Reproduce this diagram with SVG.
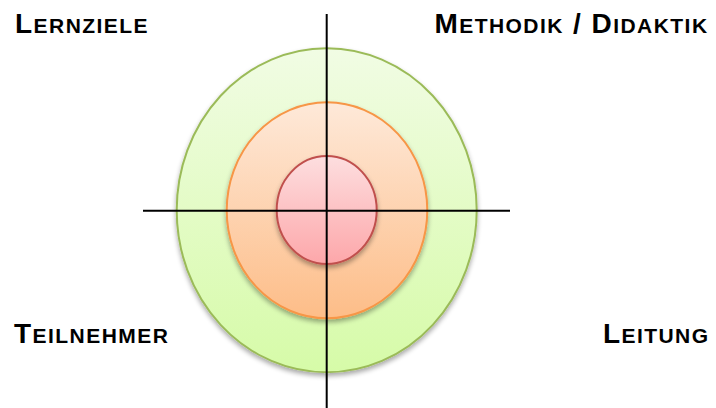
<svg xmlns="http://www.w3.org/2000/svg" width="716" height="408" viewBox="0 0 716 408">
<style>
.t{font-family:"Liberation Sans",Arial,sans-serif;font-weight:bold;fill:#000;letter-spacing:1.45px;}
.big{font-size:28px;}
.sm{font-size:21px;}
.ax{stroke:#000;stroke-width:2;fill:none;}
</style>
<defs>
<linearGradient id="gG" x1="0" y1="0" x2="0" y2="1"><stop offset="0" stop-color="#F1FCE4"/><stop offset="1" stop-color="#D6FBA8"/></linearGradient>
<linearGradient id="gO" x1="0" y1="0" x2="0" y2="1"><stop offset="0" stop-color="#FEE9D9"/><stop offset="1" stop-color="#FDBD88"/></linearGradient>
<linearGradient id="gR" x1="0" y1="0" x2="0" y2="1"><stop offset="0" stop-color="#FDDEDF"/><stop offset="1" stop-color="#FDA7AA"/></linearGradient>
<filter id="sh" x="-20%" y="-20%" width="140%" height="140%"><feGaussianBlur in="SourceAlpha" stdDeviation="2.5"/><feOffset dy="3" result="b"/><feComponentTransfer><feFuncA type="linear" slope="0.35"/></feComponentTransfer><feMerge><feMergeNode/><feMergeNode in="SourceGraphic"/></feMerge></filter>
</defs>
<g id="outer"><ellipse cx="326.7" cy="210.3" rx="150" ry="162" fill="url(#gG)" stroke="#9BBB59" stroke-width="2" filter="url(#sh)"/></g>
<g id="middle"><ellipse cx="327" cy="210.3" rx="100.3" ry="108" fill="url(#gO)" stroke="#F79646" stroke-width="2" filter="url(#sh)"/></g>
<g id="inner"><ellipse cx="326.7" cy="210" rx="50" ry="54" fill="url(#gR)" stroke="#C0504D" stroke-width="2" filter="url(#sh)"/></g>
<g id="connectors">
<line class="ax" x1="326.7" y1="14" x2="326.7" y2="408"/>
<line class="ax" x1="143" y1="210.7" x2="510" y2="210.7"/>
</g>
<g id="lernziele"><text class="t" x="15" y="33.3"><tspan class="big">L</tspan><tspan class="sm">ERNZIELE</tspan></text></g>
<g id="methodik"><text class="t" x="708.5" y="33.3" text-anchor="end"><tspan class="big">M</tspan><tspan class="sm">ETHODIK</tspan><tspan class="big"> / D</tspan><tspan class="sm">IDAKTIK</tspan></text></g>
<g id="teilnehmer"><text class="t" x="14" y="343.3"><tspan class="big">T</tspan><tspan class="sm">EILNEHMER</tspan></text></g>
<g id="leitung"><text class="t" x="709.5" y="343.3" text-anchor="end"><tspan class="big">L</tspan><tspan class="sm">EITUNG</tspan></text></g>
</svg>
